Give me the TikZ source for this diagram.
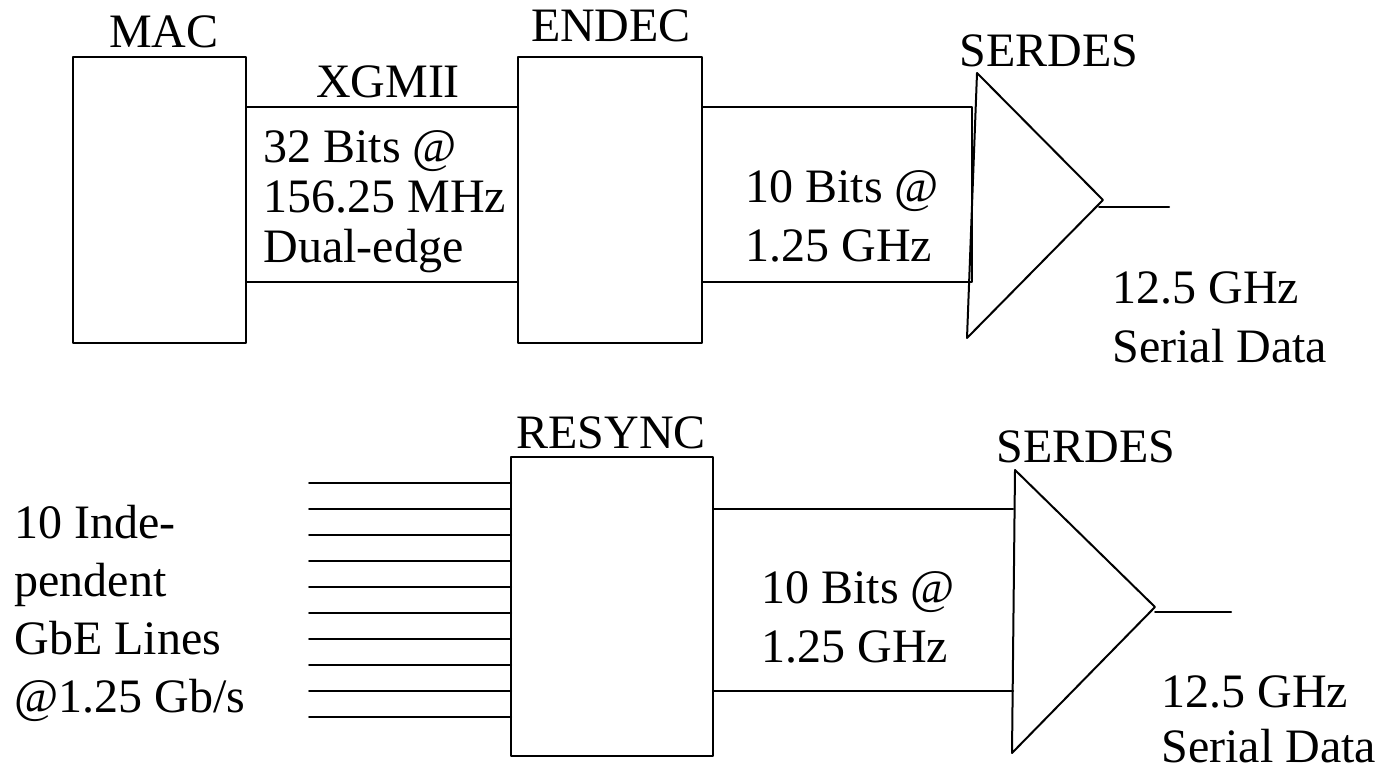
\documentclass[tikz,border=0pt]{standalone}
\usepackage{fontspec}
\setmainfont{Liberation Serif}
\begin{document}
\begin{tikzpicture}[x=0.5pt,y=-0.5pt,
  wire/.style={line width=1pt,line cap=round,line join=round},
  blk/.style={wire},
  lbl/.style={inner sep=0pt,anchor=base,font=\fontsize{24}{28}\selectfont},
  txt/.style={inner sep=0pt,anchor=base west,font=\fontsize{24}{28}\selectfont}]
\useasboundingbox (0,0) rectangle (1380,770);
% ---------- top row ----------
\draw[blk] (73,57) rectangle (246,343);
\node[lbl] (mac) at (164,48) {MAC};
\node[lbl] (xgmii) at (388,98) {XGMII};
\draw[wire] (246,107) -- (518,107);
\draw[wire] (246,282) -- (518,282);
\node[txt] (x1) at (263,163) {32 Bits @};
\node[txt] (x2) at (263,213) {156.25 MHz};
\node[txt] (x3) at (263,263) {Dual-edge};
\draw[blk] (518,57) rectangle (702,343);
\node[lbl] (endec) at (611,42) {ENDEC};
\draw[wire] (702,107) -- (972,107) -- (972,282) -- (702,282);
\draw[wire] (977,73) -- (1103,200) -- (967,338) -- cycle;
\draw[wire] (1099,207) -- (1169,207);
\node[lbl] (serdes1) at (1049,67) {SERDES};
\node[txt] (a1) at (745,203) {10 Bits @};
\node[txt] (a2) at (745,262) {1.25 GHz};
\node[txt] (o1) at (1112,303) {12.5 GHz};
\node[txt] (o2) at (1112,362) {Serial Data};
% ---------- bottom row ----------
\node[txt] (i1) at (14,538) {10 Inde-};
\node[txt] (i2) at (14,596) {pendent};
\node[txt] (i3) at (14,654) {GbE Lines};
\node[txt] (i4) at (14,712) {@1.25 Gb/s};
\foreach \yy in {483,509,535,561,587,613,639,665,691,717}
  \draw[wire] (309,\yy) -- (511,\yy);
\draw[blk] (511,457) rectangle (713,756);
\node[lbl] (resync) at (611,448) {RESYNC};
\draw[wire] (713,509) -- (1013,509);
\draw[wire] (713,691) -- (1013,691);
\draw[wire] (1015,470) -- (1155,607) -- (1012,753) -- cycle;
\draw[wire] (1155,612) -- (1231,612);
\node[lbl] (serdes2) at (1086,462) {SERDES};
\node[txt] (b1) at (761,603) {10 Bits @};
\node[txt] (b2) at (761,662) {1.25 GHz};
\node[txt] (p1) at (1161,707) {12.5 GHz};
\node[txt] (p2) at (1161,762) {Serial Data};
\end{tikzpicture}
\end{document}
